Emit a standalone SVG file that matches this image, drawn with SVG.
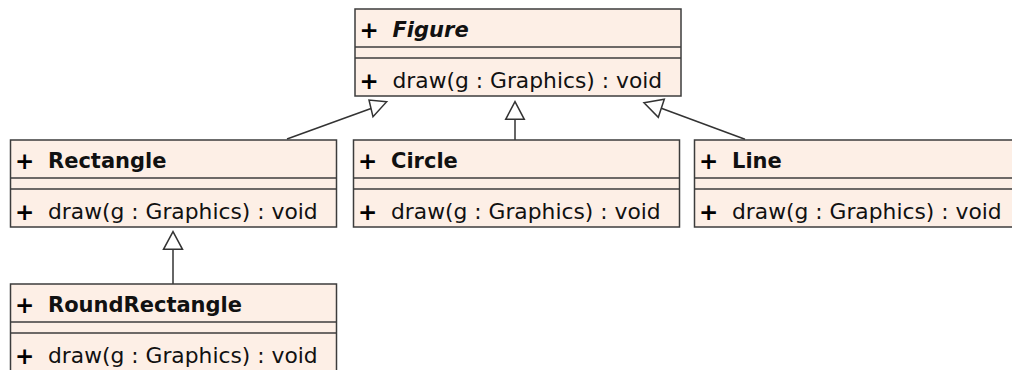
<svg xmlns="http://www.w3.org/2000/svg" width="1012" height="370" viewBox="0 0 1012 370">
<style>
.box{fill:#fdefe6;stroke:#3c3c3c;stroke-width:1.5}
.sep{stroke:#3c3c3c;stroke-width:1.5}
.t{font-family:"DejaVu Sans",sans-serif;font-size:21.8px;fill:#111}
.p{font-family:"DejaVu Sans",sans-serif;font-size:23px;font-weight:bold;fill:#000}
.b{font-weight:bold;font-size:21px}
.i{font-style:italic}
.conn{stroke:#333;stroke-width:1.5;fill:none}
.head{fill:#fff;stroke:#333;stroke-width:1.5}
</style>
<g id="connectors">
<line class="conn" x1="287" y1="139" x2="371" y2="108.5"/>
<polygon class="head" points="386.7,101.7 369,100 373,116.8"/>
<line class="conn" x1="515" y1="140" x2="515" y2="119.3"/>
<polygon class="head" points="515,101.7 505.7,119.3 524.3,119.3"/>
<line class="conn" x1="745" y1="139.3" x2="661.3" y2="108.3"/>
<polygon class="head" points="644,102.7 664.3,99.3 658.3,117.3"/>
<line class="conn" x1="173" y1="284" x2="173" y2="249.3"/>
<polygon class="head" points="173,231.7 163.5,249.3 182.5,249.3"/>
</g>
<g id="Figure">
<rect class="box" x="355" y="9" width="326" height="87"/>
<line class="sep" x1="355" y1="47" x2="681" y2="47"/>
<line class="sep" x1="355" y1="58" x2="681" y2="58"/>
<text class="p" x="359.5" y="37.5">+</text>
<text class="t b i" x="392.5" y="37.3">Figure</text>
<text class="p" x="359.5" y="88.5">+</text>
<text class="t" x="392.5" y="88.3">draw(g : Graphics) : void</text>
</g>
<g id="Rectangle">
<rect class="box" x="10.5" y="140" width="326" height="87"/>
<line class="sep" x1="10.5" y1="178" x2="336.5" y2="178"/>
<line class="sep" x1="10.5" y1="189" x2="336.5" y2="189"/>
<text class="p" x="15" y="168.5">+</text>
<text class="t b" x="48" y="168.3">Rectangle</text>
<text class="p" x="15" y="219.5">+</text>
<text class="t" x="48" y="219.3">draw(g : Graphics) : void</text>
</g>
<g id="Circle">
<rect class="box" x="353.5" y="140" width="326" height="87"/>
<line class="sep" x1="353.5" y1="178" x2="679.5" y2="178"/>
<line class="sep" x1="353.5" y1="189" x2="679.5" y2="189"/>
<text class="p" x="358" y="168.5">+</text>
<text class="t b" x="391" y="168.3">Circle</text>
<text class="p" x="358" y="219.5">+</text>
<text class="t" x="391" y="219.3">draw(g : Graphics) : void</text>
</g>
<g id="Line">
<rect class="box" x="694.5" y="140" width="326" height="87"/>
<line class="sep" x1="694.5" y1="178" x2="1020.5" y2="178"/>
<line class="sep" x1="694.5" y1="189" x2="1020.5" y2="189"/>
<text class="p" x="699" y="168.5">+</text>
<text class="t b" x="732" y="168.3">Line</text>
<text class="p" x="699" y="219.5">+</text>
<text class="t" x="732" y="219.3">draw(g : Graphics) : void</text>
</g>
<g id="RoundRectangle">
<rect class="box" x="10.5" y="284" width="326" height="87"/>
<line class="sep" x1="10.5" y1="322" x2="336.5" y2="322"/>
<line class="sep" x1="10.5" y1="333" x2="336.5" y2="333"/>
<text class="p" x="15" y="312.5">+</text>
<text class="t b" x="48" y="312.3">RoundRectangle</text>
<text class="p" x="15" y="363.5">+</text>
<text class="t" x="48" y="363.3">draw(g : Graphics) : void</text>
</g>
</svg>
